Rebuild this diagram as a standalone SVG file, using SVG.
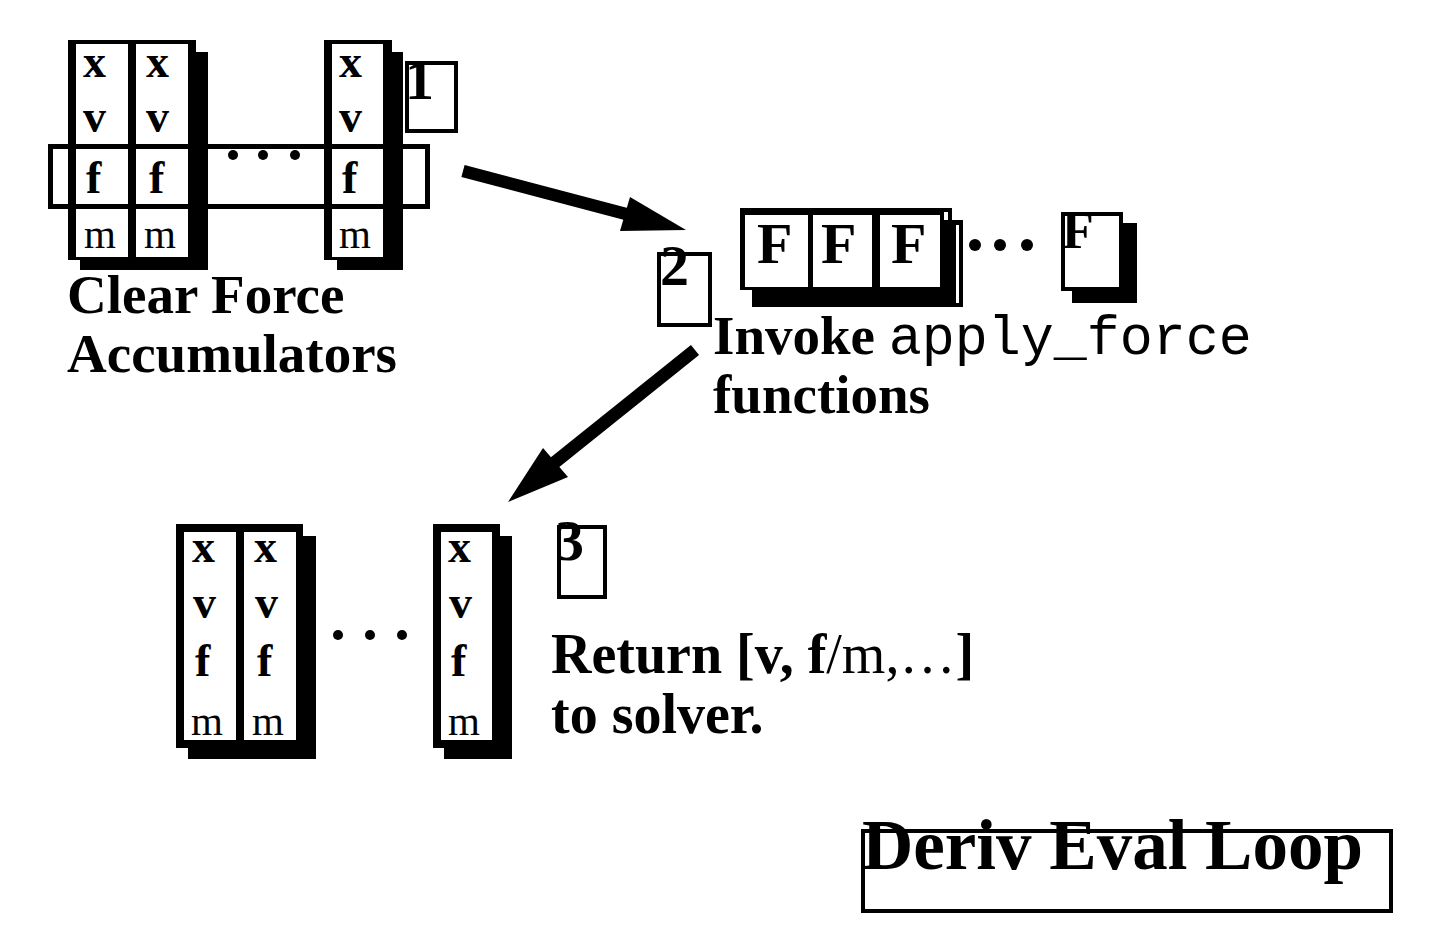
<svg xmlns="http://www.w3.org/2000/svg" width="1440" height="940" viewBox="0 0 1440 940">
<style>
.b{font-family:"Liberation Serif","Times New Roman",serif;font-weight:bold;fill:#000}
.r{font-family:"Liberation Serif","Times New Roman",serif;font-weight:normal;fill:#000}
.mono{font-family:"Liberation Mono","Courier New",monospace;font-weight:normal}
.cell{font-size:46px}
.mcell{font-size:41px}
.lbl{font-size:55px}
.dig{font-size:58px}
.w{fill:#fff}
.k{fill:#000}
.frame{fill:#fff;stroke:#000;stroke-width:4}
.arrow{stroke:#000;fill:none}
</style>
<defs>
<clipPath id="clip1"><rect x="409" y="65" width="45" height="64"/></clipPath>
</defs>
<rect width="1440" height="940" fill="#fff"/>

<g id="particles-top">
  <rect class="k" x="80" y="52" width="128" height="218"/>
  <rect class="k" x="68" y="40" width="128" height="220"/>
  <rect class="w" x="76" y="44" width="52" height="213"/>
  <rect class="w" x="136" y="44" width="52" height="213"/>
  <rect class="k" x="337" y="52" width="66" height="218"/>
  <rect class="k" x="324" y="40" width="68" height="220"/>
  <rect class="w" x="332" y="44" width="51" height="213"/>
  <rect x="50.5" y="146.5" width="377" height="60" fill="none" stroke="#000" stroke-width="5"/>
  <text class="b cell" x="83" y="77">x</text>
  <text class="b cell" x="146" y="77">x</text>
  <text class="b cell" x="339" y="77">x</text>
  <text class="b cell" x="83" y="132">v</text>
  <text class="b cell" x="146" y="132">v</text>
  <text class="b cell" x="339" y="132">v</text>
  <text class="b cell" x="86" y="193">f</text>
  <text class="b cell" x="149" y="193">f</text>
  <text class="b cell" x="342" y="193">f</text>
  <text class="r mcell" x="84" y="248">m</text>
  <text class="r mcell" x="144" y="248">m</text>
  <text class="r mcell" x="339" y="248">m</text>
  <circle cx="233" cy="155" r="5"/>
  <circle cx="263" cy="155" r="5"/>
  <circle cx="295" cy="155" r="5"/>
  <text class="b lbl" x="67" y="313">Clear Force</text>
  <text class="b lbl" x="67" y="372">Accumulators</text>
</g>

<g id="step1">
  <rect x="407" y="63" width="49" height="68" fill="none" stroke="#000" stroke-width="4"/>
  <text class="b dig" x="405" y="99" clip-path="url(#clip1)">1</text>
</g>

<g id="forces">
  <rect class="k" x="752" y="220" width="211" height="87"/>
  <rect class="w" x="956" y="225" width="3" height="78"/>
  <rect class="k" x="740" y="208" width="212" height="82"/>
  <rect class="w" x="944" y="212" width="4" height="8"/>
  <rect class="w" x="745" y="215" width="63" height="72"/>
  <rect class="w" x="813" y="215" width="59" height="72"/>
  <rect class="w" x="880" y="215" width="60" height="72"/>
  <text class="b" font-size="58" x="757" y="263">F</text>
  <text class="b" font-size="58" x="821" y="263">F</text>
  <text class="b" font-size="58" x="891" y="263">F</text>
  <circle cx="975" cy="245" r="6"/>
  <circle cx="1000" cy="245" r="6"/>
  <circle cx="1027" cy="245" r="6"/>
  <rect class="k" x="1072" y="223" width="65" height="80"/>
  <rect class="frame" x="1063" y="214" width="58" height="75"/>
  <text class="b" font-size="52" x="1062" y="248">F</text>
  <text class="b lbl" x="713" y="354">Invoke <tspan class="mono">apply_force</tspan></text>
  <text class="b lbl" x="713" y="413">functions</text>
</g>

<g id="step2">
  <rect x="659" y="254" width="51" height="71" fill="none" stroke="#000" stroke-width="4"/>
  <text class="b dig" x="660" y="285">2</text>
</g>

<g id="particles-bottom">
  <rect class="k" x="188" y="536" width="128" height="223"/>
  <rect class="k" x="176" y="524" width="127" height="224"/>
  <rect class="w" x="184" y="532" width="52" height="208"/>
  <rect class="w" x="244" y="532" width="52" height="208"/>
  <rect class="k" x="444" y="536" width="68" height="223"/>
  <rect class="k" x="433" y="524" width="67" height="224"/>
  <rect class="w" x="441" y="532" width="51" height="208"/>
  <text class="b cell" x="192" y="562">x</text>
  <text class="b cell" x="254" y="562">x</text>
  <text class="b cell" x="448" y="562">x</text>
  <text class="b cell" x="193" y="618">v</text>
  <text class="b cell" x="255" y="618">v</text>
  <text class="b cell" x="449" y="618">v</text>
  <text class="b cell" x="195" y="676">f</text>
  <text class="b cell" x="257" y="676">f</text>
  <text class="b cell" x="451" y="676">f</text>
  <text class="r mcell" x="191" y="735">m</text>
  <text class="r mcell" x="252" y="735">m</text>
  <text class="r mcell" x="448" y="735">m</text>
  <circle cx="338" cy="635" r="5"/>
  <circle cx="370" cy="635" r="5"/>
  <circle cx="402" cy="635" r="5"/>
  <text class="b" font-size="56" x="551" y="673">Return [v, f<tspan class="r">/m,…</tspan>]</text>
  <text class="b" font-size="56" x="551" y="733">to solver.</text>
</g>

<g id="step3">
  <rect x="559" y="527" width="46" height="70" fill="none" stroke="#000" stroke-width="4"/>
  <text class="b dig" x="555" y="560">3</text>
</g>

<g id="title">
  <rect x="863" y="831" width="528" height="80" fill="none" stroke="#000" stroke-width="4"/>
  <text class="b" font-size="71" x="862" y="869">Deriv Eval Loop</text>
</g>

<g id="connectors">
  <line class="arrow" x1="463" y1="171" x2="626" y2="214" stroke-width="12.5"/>
  <polygon points="630,197 686,230 620,231" fill="#000"/>
  <line class="arrow" x1="695" y1="350" x2="554" y2="463" stroke-width="13"/>
  <polygon points="543,448 568,477 508,502" fill="#000"/>
</g>
</svg>
